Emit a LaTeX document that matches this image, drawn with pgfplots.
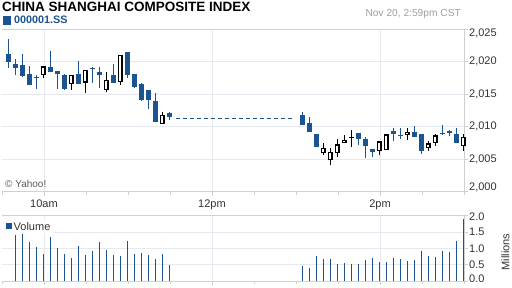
\documentclass[border=0pt]{standalone}
\usepackage{pgfplots}
\pgfplotsset{compat=1.18}
\usepackage{pgfplotstable}
\usepackage{fontspec}
\setmainfont{Liberation Sans}
\definecolor{yblue}{RGB}{28,84,145}
\definecolor{gridc}{RGB}{230,233,240}
\definecolor{framec}{RGB}{208,208,208}
\definecolor{lbl}{RGB}{51,51,51}
\definecolor{dategray}{RGB}{160,160,160}

\pgfplotstableread{
t O H L C
4.5 2021.16 2023.46 2019.07 2019.99
9.5 2019.63 2020.40 2017.94 2019.07
14.5 2019.48 2021.16 2017.70 2017.79
19.5 2018.09 2019.32 2016.41 2016.41
24.5 2017.60 2017.94 2015.85 2017.45
34.5 2019.12 2021.62 2018.45 2018.45
39.5 2018.55 2018.55 2015.79 2018.15
44.5 2017.94 2018.09 2015.64 2015.79
54.5 2018.09 2020.09 2016.56 2016.56
64.5 2018.93 2019.17 2016.72 2018.78
69.5 2018.40 2019.17 2015.95 2017.94
79.5 2017.94 2019.63 2016.77 2016.77
89.5 2021.47 2021.47 2017.48 2017.94
94.5 2018.09 2018.09 2015.90 2016.10
99.5 2016.56 2016.72 2013.95 2014.11
104.5 2015.64 2015.64 2012.73 2014.11
109.5 2013.95 2015.18 2010.73 2010.73
119.5 2012.11 2012.27 2011.04 2011.50
214.5 2011.82 2012.27 2010.20 2010.20
219.5 2010.61 2011.52 2009.14 2009.14
224.5 2008.79 2008.79 2006.87 2006.87
254.5 2009.09 2009.09 2007.17 2008.08
259.5 2008.03 2008.38 2005.20 2007.02
264.5 2006.52 2006.52 2005.35 2006.11
279.5 2009.39 2009.85 2007.78 2008.84
284.5 2008.70 2009.85 2008.03 2008.55
294.5 2009.24 2010.15 2008.38 2008.38
299.5 2008.94 2008.94 2005.81 2006.26
314.5 2009.09 2010.30 2008.69 2008.84
319.5 2009.30 2009.55 2008.55 2009.00
324.5 2008.84 2009.85 2007.47 2007.47
}\downtab

\pgfplotstableread{
t O H L C
29.5 2017.94 2019.27 2017.53 2019.27
49.5 2016.51 2017.94 2015.64 2017.94
59.5 2016.77 2018.71 2015.18 2018.71
74.5 2015.59 2018.40 2015.28 2017.17
84.5 2016.82 2021.01 2016.41 2021.01
114.5 2010.37 2012.27 2010.37 2011.81
229.5 2005.96 2007.42 2005.66 2006.72
234.5 2004.90 2006.72 2004.14 2006.11
239.5 2005.96 2008.03 2005.35 2007.27
244.5 2007.47 2008.64 2007.47 2007.93
249.5 2008.28 2009.55 2006.87 2008.43
269.5 2006.26 2007.73 2005.66 2007.73
274.5 2006.41 2008.94 2006.41 2008.79
289.5 2008.69 2009.85 2007.93 2009.24
304.5 2006.72 2007.73 2006.26 2007.42
309.5 2007.47 2008.79 2007.02 2008.64
329.5 2007.02 2008.79 2006.26 2008.38
}\uptab

\pgfplotstableread{
t v
9.5 1.41
14.5 1.44
19.5 1.19
24.5 1.04
29.5 0.83
34.5 1.35
39.5 1.01
44.5 0.83
49.5 0.70
54.5 1.07
59.5 0.80
64.5 0.92
69.5 1.19
74.5 0.95
79.5 0.80
84.5 0.77
89.5 1.22
94.5 0.83
99.5 0.86
104.5 0.80
109.5 0.67
114.5 0.83
119.5 0.49
214.5 0.46
219.5 0.40
224.5 0.77
229.5 0.67
234.5 0.67
239.5 0.52
244.5 0.55
249.5 0.52
254.5 0.52
259.5 0.64
264.5 0.70
269.5 0.58
274.5 0.58
279.5 0.70
284.5 0.67
289.5 0.61
294.5 0.64
299.5 0.92
304.5 0.77
309.5 0.73
314.5 0.92
319.5 0.89
324.5 1.22
329.5 1.90
}\voltab

\pgfplotsset{
  yahoo/.style={
    scale only axis, width=462pt, anchor=south west,
    xmin=0, xmax=330, clip=false,
    axis line style={draw=none},
    xtick={30,150,270},
    minor xtick={0,60,90,120,180,210,240,300,330},
    xtick pos=left, ytick pos=right,
    tick align=outside,
    major tick length=4pt, minor tick length=3pt,
    tick style={draw=framec, line width=0.8pt},
    minor tick style={draw=framec, line width=0.8pt},
    xmajorgrids, ymajorgrids,
    major grid style={draw=gridc, line width=0.9pt},
    tick label style={font=\fontsize{11}{13}\selectfont, text=lbl},
    yticklabel style={anchor=west, inner sep=0pt, xshift=1pt},
  },
  candle/.style n args={2}{draw=none, mark=none,
    error bars/.cd, y dir=#1, y explicit, error mark=none,
    error bar style={#2, solid}},
}

\begin{document}
\begin{tikzpicture}
\useasboundingbox (0,0) rectangle (512pt,288pt);
\fill[white] (0,0) rectangle (512pt,288pt);

% ---------- main price panel ----------
\begin{axis}[yahoo,
  at={(2pt,96.3pt)}, height=162.7pt,
  ymin=2000, ymax=2025,
  xticklabels={10am,12pm,2pm},
  xticklabel style={yshift=-1pt},
  ytick={2000,2005,2010,2015,2020,2025},
  yticklabels={{},{2,005},{2,010},{2,015},{2,020},{}},
]
\draw[framec, line width=0.8pt] (rel axis cs:0,1) -- (rel axis cs:1,1) -- (rel axis cs:1,0) -- (rel axis cs:0,0);
% dashed lunch-break line
\addplot[yblue, line width=0.9pt, dash pattern=on 4pt off 3pt] coordinates {(124,2011.3) (208,2011.3)};
% wicks
\addplot[candle={plus}{draw=yblue, line width=1pt}]
  table[x=t, y=L, y error plus expr=\thisrow{H}-\thisrow{L}] {\downtab};
\addplot[candle={plus}{draw=black, line width=1pt}]
  table[x=t, y=L, y error plus expr=\thisrow{H}-\thisrow{L}] {\uptab};
% bodies
\addplot[candle={minus}{draw=yblue, line width=4.6pt}]
  table[x=t, y=O, y error minus expr=\thisrow{O}-\thisrow{C}] {\downtab};
\addplot[candle={minus}{draw=black, line width=4.6pt}]
  table[x=t, y=C, y error minus expr=\thisrow{C}-\thisrow{O}] {\uptab};
\addplot[candle={minus}{draw=white, line width=2.0pt}]
  table[x=t, y expr=\thisrow{C}-0.2, y error minus expr={max(\thisrow{C}-\thisrow{O}-0.4,0)}] {\uptab};
\end{axis}

% ---------- volume panel ----------
\begin{axis}[yahoo,
  at={(2pt,7pt)}, height=65.3pt,
  ymin=0, ymax=2,
  xticklabels={},
  ytick={0,0.5,1,1.5,2},
  yticklabels={{},0.5,1.0,1.5,{}},
]
\draw[framec, line width=0.8pt] (rel axis cs:0,1) -- (rel axis cs:1,1) -- (rel axis cs:1,0) -- (rel axis cs:0,0);
\addplot[ycomb, mark=none, draw=yblue, line width=1pt] table[x=t, y=v] {\voltab};
\end{axis}

% ---------- texts ----------
\node[anchor=base west, inner sep=0pt, font=\fontsize{13.5}{15}\selectfont\bfseries] at (2pt,276.3pt) {CHINA SHANGHAI COMPOSITE INDEX};
\fill[yblue] (2.7pt,263pt) rectangle (11.3pt,272pt);
\node[anchor=base west, inner sep=0pt, text=yblue, font=\fontsize{10.8}{13}\selectfont\bfseries] at (14pt,264pt) {000001.SS};
\node[anchor=base east, inner sep=0pt, text=dategray, font=\fontsize{10.2}{12}\selectfont] at (461pt,271.5pt) {Nov 20, 2:59pm CST};
\node[anchor=base west, inner sep=0pt, text=lbl!80, font=\fontsize{10}{12}\selectfont] at (5pt,100pt) {© Yahoo!};
% extreme tick labels
\node[anchor=west, inner sep=0pt, text=lbl, font=\fontsize{11}{13}\selectfont] at (469pt,255pt) {2,025};
\node[anchor=west, inner sep=0pt, text=lbl, font=\fontsize{11}{13}\selectfont] at (469pt,100.7pt) {2,000};
\node[anchor=west, inner sep=0pt, text=lbl, font=\fontsize{11}{13}\selectfont] at (469pt,71pt) {2.0};
\node[anchor=west, inner sep=0pt, text=lbl, font=\fontsize{11}{13}\selectfont] at (469pt,9pt) {0.0};
\node[rotate=90, inner sep=0pt, text=lbl, font=\fontsize{11}{13}\selectfont] at (505.5pt,36pt) {Millions};
% volume legend
\fill[white] (3pt,54.5pt) rectangle (53pt,68pt);
\fill[yblue] (6pt,59.3pt) rectangle (12pt,65.3pt);
\node[anchor=base west, inner sep=0pt, text=lbl, font=\fontsize{11}{13}\selectfont] at (13.5pt,57.3pt) {Volume};
\end{tikzpicture}
\end{document}
